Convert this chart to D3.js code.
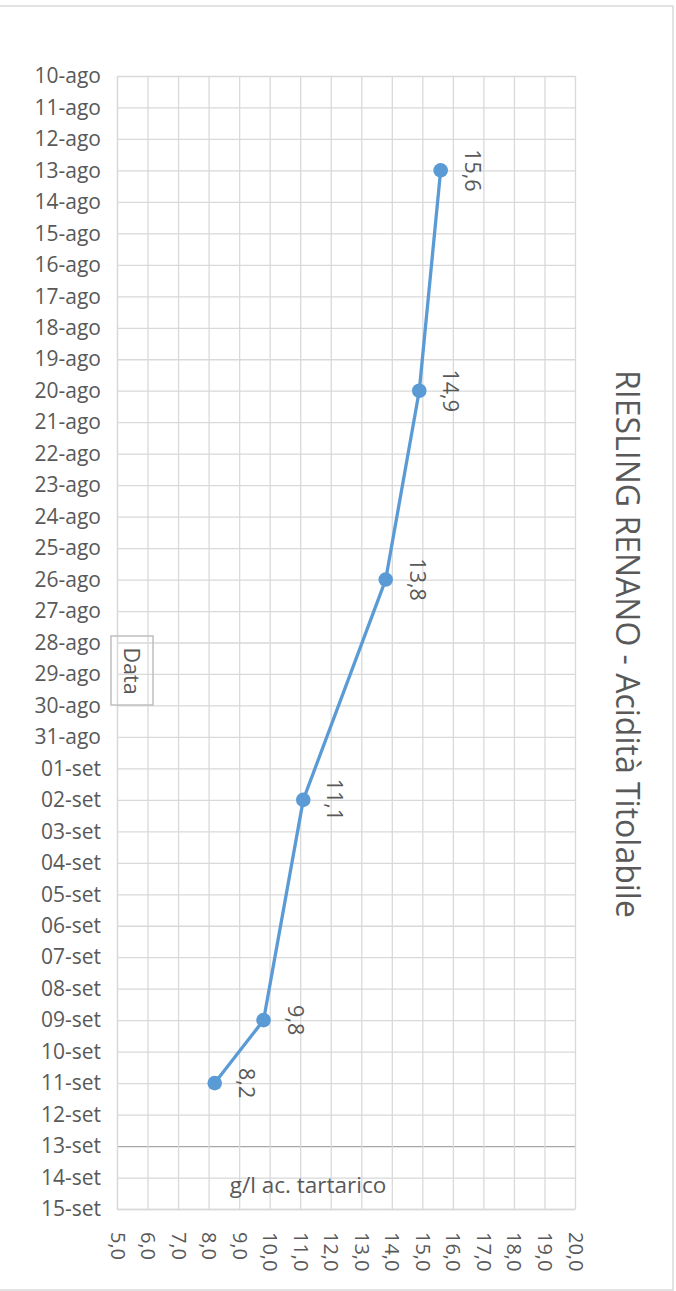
<!DOCTYPE html>
<html>
<head>
<meta charset="utf-8">
<script src="https://cdn.jsdelivr.net/npm/d3@7"></script>
<style>
  html, body { margin: 0; padding: 0; background: #ffffff; }
  svg { display: block; }
  text { font-family: "Open Sans", "Noto Sans", sans-serif; fill: #595959; }
</style>
</head>
<body>
<svg id="chart" width="676" height="1291"></svg>
<script>
const dateLabels = [
  "10-ago","11-ago","12-ago","13-ago","14-ago","15-ago","16-ago","17-ago","18-ago","19-ago",
  "20-ago","21-ago","22-ago","23-ago","24-ago","25-ago","26-ago","27-ago","28-ago","29-ago",
  "30-ago","31-ago","01-set","02-set","03-set","04-set","05-set","06-set","07-set","08-set",
  "09-set","10-set","11-set","12-set","13-set","14-set","15-set"
];
const sampleDates = ["13-ago","20-ago","26-ago","02-set","09-set","11-set"];
const acidity = [15.6, 14.9, 13.8, 11.1, 9.8, 8.2];
const valueTicks = [5,6,7,8,9,10,11,12,13,14,15,16,17,18,19,20];
const titleText = "RIESLING RENANO - Acidità Titolabile";
const catAxisTitle = "Data";
const valAxisTitle = "g/l ac. tartarico";
const axisCrossDate = "13-set";

const svg = d3.select("#chart");
const plot = { left: 117, right: 575, top: 76, bottom: 1209 };

// outer chart border
svg.append("rect").attr("x", -1).attr("y", 6).attr("width", 674).attr("height", 1284)
  .attr("fill", "#fff").attr("stroke", "#d9d9d9").attr("stroke-width", 1.5);

const x = d3.scaleLinear().domain([d3.min(valueTicks), d3.max(valueTicks)]).range([plot.left, plot.right]);
const y = d3.scalePoint().domain(dateLabels).range([plot.top, plot.bottom]);

const fmt = d => d.toFixed(1).replace(".", ",");

// horizontal gridlines (per date)
const gy = svg.append("g").attr("class", "grid-y")
  .attr("transform", `translate(${plot.left},0)`)
  .call(d3.axisLeft(y).tickSize(-(plot.right - plot.left)).tickFormat(""));
gy.select(".domain").remove();
gy.selectAll(".tick line").attr("stroke", d => d === axisCrossDate ? "#a6a6a6" : "#d9d9d9").attr("stroke-width", 1.3);

// vertical gridlines (per value)
const gx = svg.append("g").attr("class", "grid-x")
  .attr("transform", `translate(0,${plot.top})`)
  .call(d3.axisTop(x).tickValues(valueTicks).tickSize(-(plot.bottom - plot.top)).tickFormat(""));
gx.select(".domain").remove();
gx.selectAll(".tick line").attr("stroke", "#d9d9d9").attr("stroke-width", 1.3);

// left axis (date labels)
const ay = svg.append("g").attr("transform", `translate(${plot.left},0)`)
  .call(d3.axisLeft(y).tickSize(0).tickPadding(16));
ay.select(".domain").attr("stroke", "#d9d9d9").attr("stroke-width", 1.3);
ay.selectAll(".tick text").attr("font-size", 21).attr("fill", "#595959")
  .style("font-family", '"Open Sans", sans-serif');

// bottom axis (value labels, rotated)
const ax = svg.append("g").attr("transform", `translate(0,${plot.bottom})`)
  .call(d3.axisBottom(x).tickValues(valueTicks).tickSize(0).tickFormat(fmt));
ax.select(".domain").attr("stroke", "#d9d9d9").attr("stroke-width", 1.3);
ax.selectAll(".tick text")
  .attr("font-size", 20)
  .attr("text-anchor", "start")
  .attr("x", 0).attr("y", 0).attr("dy", "0.35em")
  .attr("transform", "translate(0,23) rotate(90)")
  .style("font-family", '"Open Sans", sans-serif');

// line
const pts = sampleDates.map((d, i) => ({ date: d, v: acidity[i] }));
const line = d3.line().x(d => x(d.v)).y(d => y(d.date));
svg.append("path").datum(pts).attr("d", line)
  .attr("fill", "none").attr("stroke", "#5b9bd5").attr("stroke-width", 3.3)
  .attr("stroke-linejoin", "round");

svg.append("g").selectAll("circle").data(pts).join("circle")
  .attr("cx", d => x(d.v)).attr("cy", d => y(d.date)).attr("r", 7.3)
  .attr("fill", "#5b9bd5");

// data labels
svg.append("g").selectAll("text").data(pts).join("text")
  .attr("transform", d => `translate(${x(d.v) + 24},${y(d.date)}) rotate(90)`)
  .attr("text-anchor", "middle")
  .attr("font-size", 21.5)
  .text(d => fmt(d.v));

// title
svg.append("text")
  .attr("transform", `translate(616,644) rotate(90)`)
  .attr("text-anchor", "middle")
  .attr("font-size", 32)
  .text(titleText);

// category axis title with box
svg.append("rect").attr("x", 111).attr("y", 636).attr("width", 42).attr("height", 69)
  .attr("fill", "none").attr("stroke", "#bfbfbf").attr("stroke-width", 1.5);
svg.append("text")
  .attr("transform", `translate(124,671) rotate(90)`)
  .attr("text-anchor", "middle")
  .attr("font-size", 21.5)
  .text(catAxisTitle);

// value axis title
svg.append("text")
  .attr("x", 308).attr("y", 1193)
  .attr("text-anchor", "middle")
  .attr("font-size", 22.5)
  .text(valAxisTitle);
</script>
</body>
</html>
